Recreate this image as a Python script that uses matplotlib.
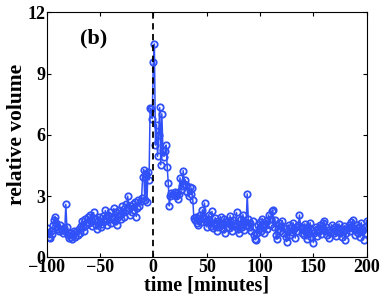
import numpy as np
import matplotlib
matplotlib.use('Agg')
import matplotlib.pyplot as plt

plt.rcParams['font.family'] = ['Liberation Serif', 'DejaVu Serif']
plt.rcParams['font.weight'] = 'bold'

# minutes relative to event, one sample per minute
t = np.arange(-100, 201)

vol = [
    1.45, 1.2, 1.0, 0.95, 1.3, 1.15, 1.6, 1.84, 2.0, 1.7,
    1.5, 1.4, 1.3, 1.6, 1.35, 1.2, 1.45, 1.3, 2.6, 1.5,
    1.1, 0.95, 1.2, 1.0, 0.9, 1.15, 1.3, 1.0, 1.25, 1.1,
    1.4, 1.2, 1.55, 1.8, 1.5, 1.3, 1.9, 1.6, 1.75, 2.0,
    1.7, 2.1, 1.85, 1.55, 2.2, 1.9, 1.6, 1.4, 1.8, 2.0,
    1.75, 1.5, 1.65, 2.05, 1.8, 2.3, 1.95, 1.6, 2.1, 2.2,
    1.7, 1.9, 2.0, 2.4, 1.8, 2.2, 1.6, 2.0, 2.3, 2.1,
    1.9, 2.5, 2.2, 2.0, 2.6, 2.3, 3.0, 2.4, 2.1, 2.5,
    2.2, 2.6, 2.3, 2.7, 2.0, 2.4, 2.8, 2.5, 2.75, 2.9,
    3.96, 4.3, 2.8, 4.1, 2.7, 4.2, 3.8, 7.3, 7.25, 6.8,
    9.55, 10.45, 5.5, 6.5, 4.95, 6.0, 7.34, 4.53, 7.03, 5.27,
    4.94, 5.2, 5.5, 4.45, 3.64, 2.52, 3.0, 3.15, 3.1, 3.05,
    3.2, 3.0, 3.15, 2.85, 3.1, 3.9, 3.3, 3.5, 4.25, 3.6,
    3.8, 3.55, 3.2, 3.0, 3.47, 3.1, 3.4, 2.82, 1.92, 1.84,
    2.0, 1.7, 1.6, 1.85, 2.1, 1.75, 2.33, 1.92, 2.66, 1.8,
    1.5, 1.9, 2.1, 1.68, 1.55, 2.25, 1.43, 1.7, 1.95, 1.6,
    1.3, 1.8, 1.5, 2.0, 1.65, 1.4, 1.9, 1.2, 1.75, 1.5,
    1.8, 1.45, 2.05, 1.6, 1.3, 1.85, 1.55, 1.7, 2.2, 1.4,
    1.2, 1.6, 1.9, 1.5, 2.1, 1.35, 1.75, 1.6, 3.11, 1.9,
    1.5, 1.7, 1.3, 1.8, 1.1, 0.9, 0.86, 1.2, 1.6, 1.4,
    1.75, 1.3, 1.9, 1.5, 1.2, 1.65, 1.8, 1.4, 2.08, 1.6,
    1.9, 2.25, 2.33, 1.5, 1.85, 1.1, 0.9, 1.4, 1.7, 1.3,
    1.55, 1.8, 1.2, 1.45, 1.0, 0.78, 1.3, 1.6, 1.1, 1.45,
    1.25, 1.7, 1.4, 0.95, 1.5, 1.3, 1.6, 2.08, 1.5, 1.2,
    1.45, 1.1, 1.65, 1.3, 0.9, 1.5, 1.2, 1.7, 1.0, 1.35,
    0.73, 1.2, 1.5, 1.05, 1.4, 1.3, 1.6, 1.15, 1.45, 1.7,
    1.76, 1.3, 1.5, 1.1, 1.35, 0.95, 1.25, 1.6, 1.4, 1.2,
    1.5, 1.05, 1.3, 1.45, 1.65, 1.2, 1.4, 1.0, 1.3, 1.55,
    0.86, 1.2, 1.45, 1.6, 1.3, 1.75, 1.5, 1.84, 1.4, 1.1,
    1.35, 1.6, 1.2, 1.5, 1.0, 1.7, 1.3, 0.86, 1.5, 1.2,
    1.8,
]

xticks = [-100, -50, 0, 50, 100, 150, 200]
yticks = [0, 3, 6, 9, 12]

fig = plt.figure(figsize=(3.82, 2.99), dpi=100)
ax = fig.add_axes([0.122, 0.139, 0.838, 0.82])

ax.plot(t, vol, '-o', color='#3050f8', lw=1.1, ms=4.6,
        mfc='none', mec='#3050f8', mew=1.3)
ax.axvline(0, color='k', ls='--', lw=1.3, dashes=(3.5, 2.5))

ax.set_xlim(-100, 200)
ax.set_ylim(0, 12)
ax.set_xticks(xticks)
ax.set_yticks(yticks)
ax.set_xticklabels(['\u2212100', '\u221250', '0', '50', '100', '150', '200'])
ax.tick_params(direction='in', top=True, right=True, length=3,
               labelsize=13, pad=1)
for lab in ax.get_xticklabels() + ax.get_yticklabels():
    lab.set_fontweight('bold')
ax.set_xlabel('time [minutes]', fontsize=14.5, fontweight='bold', labelpad=0)
ax.set_ylabel('relative volume', fontsize=15.5, fontweight='bold', labelpad=0)
ax.text(-69, 10.7, '(b)', fontsize=16, fontweight='bold', va='center')

fig.savefig('out.png', dpi=100)
